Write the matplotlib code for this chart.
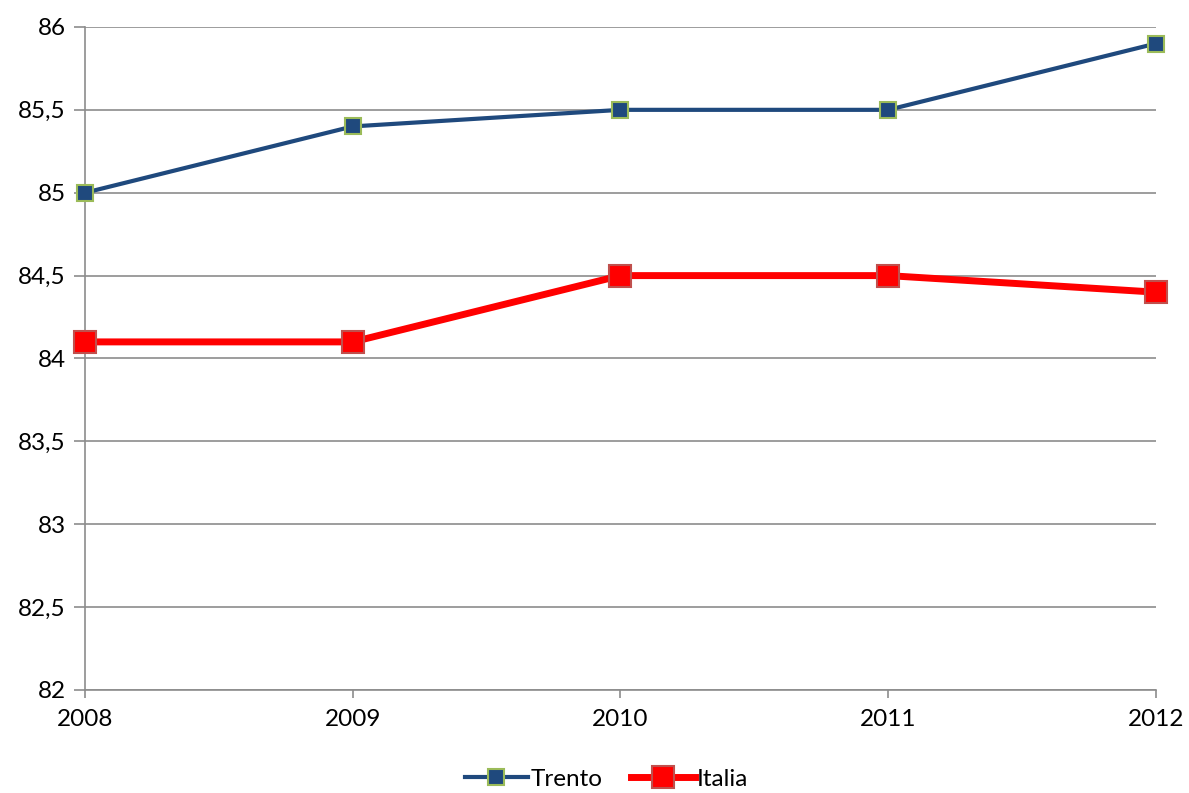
import matplotlib
matplotlib.use("Agg")
import matplotlib.pyplot as plt
from matplotlib.ticker import FuncFormatter

years   = [2008, 2009, 2010, 2011, 2012]
trento  = [85.0, 85.4, 85.5, 85.5, 85.9]
italia  = [84.1, 84.1, 84.5, 84.5, 84.4]
y_ticks = [82, 82.5, 83, 83.5, 84, 84.5, 85, 85.5, 86]

plt.rcParams['font.family'] = ['Lato', 'DejaVu Sans']

fig = plt.figure(figsize=(11.89, 7.93), dpi=100)
ax  = fig.add_axes([0.0715, 0.1299, 0.9007, 0.8361])

ax.plot(years, trento, color='#1F497D', lw=3, marker='s', ms=11,
        mfc='#1F497D', mec='#9BBB59', mew=1.5, label='Trento', zorder=3, clip_on=False)
ax.plot(years, italia, color='#FF0000', lw=5, marker='s', ms=16,
        mfc='#FF0000', mec='#C0504D', mew=1.5, label='Italia', zorder=3, clip_on=False)

ax.set_xlim(2008, 2012)
ax.set_ylim(82, 86)
ax.set_xticks(years)
ax.set_yticks(y_ticks)
ax.yaxis.set_major_formatter(FuncFormatter(lambda v, p: f"{v:g}".replace('.', ',')))

ax.grid(axis='y', color='#8C8C8C', lw=1.2)
ax.set_axisbelow(True)
for s in ['top', 'right']:
    ax.spines[s].set_visible(False)
for s in ['left', 'bottom']:
    ax.spines[s].set_color('#8C8C8C')
    ax.spines[s].set_linewidth(1.2)

ax.tick_params(axis='y', length=8, width=1.2, color='#8C8C8C', labelsize=17.5, pad=6)
ax.tick_params(axis='x', length=6, width=1.2, color='#8C8C8C', labelsize=17.5, pad=8)

ax.legend(loc='center', bbox_to_anchor=(0.487, -0.135), ncol=2, frameon=False,
          fontsize=17.5, handlelength=2.6, handletextpad=0.1, columnspacing=1.2,
          borderaxespad=0)

fig.savefig('out.png', dpi=100)
